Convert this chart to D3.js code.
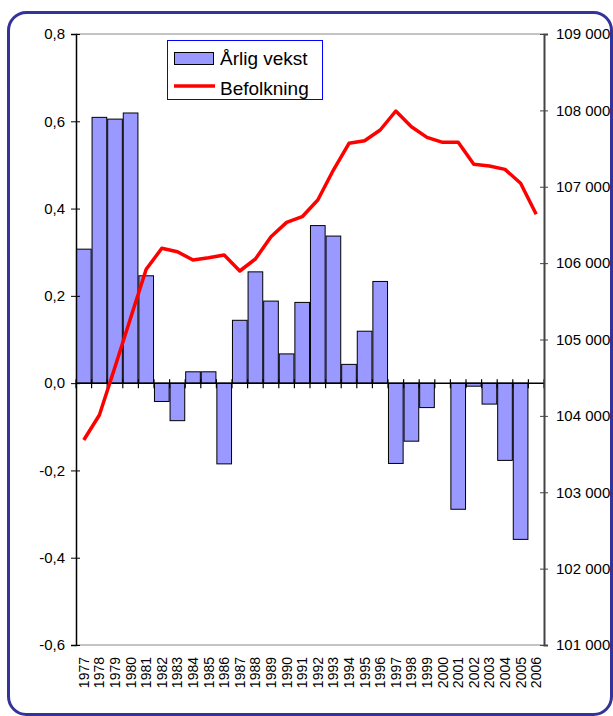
<!DOCTYPE html>
<html>
<head>
<meta charset="utf-8">
<script src="https://cdn.jsdelivr.net/npm/d3@7"></script>
<style>
    body { margin: 0; background: #fff; }
    text { font-family: "Liberation Sans", Arial, sans-serif; fill: #000; }
</style>
</head>
<body>
<div id="chart"></div>
<script>
// years on the category axis
let years = ["1977","1978","1979","1980","1981","1982","1983","1984","1985","1986",
    "1987","1988","1989","1990","1991","1992","1993","1994","1995","1996",
    "1997","1998","1999","2000","2001","2002","2003","2004","2005","2006"];

// Årlig vekst (percent), left axis
let growth = [0.307, 0.609, 0.605, 0.619, 0.246, -0.042, -0.086, 0.026, 0.026, -0.185,
    0.144, 0.255, 0.188, 0.067, 0.185, 0.361, 0.337, 0.043, 0.119, 0.233,
    -0.184, -0.133, -0.056, 0, -0.289, -0.007, -0.048, -0.177, -0.358, null];

// Befolkning, right axis
let population = [103684, 104011, 104640, 105282, 105919, 106194, 106149, 106041, 106071, 106106,
    105897, 106054, 106346, 106534, 106608, 106827, 107219, 107569, 107603, 107743,
    107992, 107786, 107647, 107582, 107582, 107294, 107272, 107228, 107045, 106639];

let leftTicks = [-0.6, -0.4, -0.2, 0, 0.2, 0.4, 0.6, 0.8];
let rightTicks = [101000, 102000, 103000, 104000, 105000, 106000, 107000, 108000, 109000];
let legendLabels = ["Årlig vekst", "Befolkning"];

let width = 613, height = 716;
let margin = { top: 34, right: 69, bottom: 71, left: 76 };

let svg = d3.select("#chart").append("svg").attr("width", width).attr("height", height);

// rounded frame
svg.append("rect").attr("x", 8.5).attr("y", 12.5).attr("width", 603).attr("height", 702)
    .attr("rx", 18).attr("fill", "none").attr("stroke", "#333399").attr("stroke-width", 3);

let x = d3.scaleBand().domain(years).range([margin.left, width - margin.right]).paddingInner(0.06).paddingOuter(0.03);
let yL = d3.scaleLinear().domain([-0.6, 0.8]).range([height - margin.bottom, margin.top]);
let yR = d3.scaleLinear().domain([101000, 109000]).range([height - margin.bottom, margin.top]);

let locale = d3.formatLocale({ decimal: ",", thousands: " ", grouping: [3], currency: ["", ""], minus: "-" });
let fmtL = locale.format(".1f");
let fmtR = locale.format(",d");

// plot area top and bottom edges
svg.append("line").attr("x1", margin.left).attr("x2", width - margin.right)
    .attr("y1", margin.top).attr("y2", margin.top).attr("stroke", "#888").attr("stroke-width", 1);
svg.append("line").attr("x1", margin.left).attr("x2", width - margin.right)
    .attr("y1", yL(-0.6)).attr("y2", yL(-0.6)).attr("stroke", "#888").attr("stroke-width", 1);

// bars
let barData = years.map((y, i) => ({ year: y, value: growth[i] })).filter(d => d.value !== null);
svg.append("g").selectAll("rect").data(barData).join("rect")
    .attr("x", d => x(d.year))
    .attr("y", d => yL(Math.max(0, d.value)))
    .attr("width", x.bandwidth())
    .attr("height", d => Math.abs(yL(d.value) - yL(0)))
    .attr("fill", "#9999ff").attr("stroke", "#000").attr("stroke-width", 1);

// zero line with category ticks
svg.append("line").attr("x1", margin.left).attr("x2", width - margin.right)
    .attr("y1", yL(0)).attr("y2", yL(0)).attr("stroke", "#000").attr("stroke-width", 1.5);
let bounds = d3.range(years.length + 1).map(i => margin.left + i * (width - margin.left - margin.right) / years.length);
svg.append("g").selectAll("line").data(bounds).join("line")
    .attr("x1", d => d).attr("x2", d => d)
    .attr("y1", yL(0) - 4).attr("y2", yL(0) + 5)
    .attr("stroke", "#000").attr("stroke-width", 1.2);

// population line
let line = d3.line().x((d, i) => x(years[i]) + x.bandwidth() / 2).y(d => yR(d));
svg.append("path").datum(population).attr("d", line)
    .attr("fill", "none").attr("stroke", "#ff0000").attr("stroke-width", 3.5).attr("stroke-linejoin", "round");

// left axis
let axL = svg.append("g").attr("transform", "translate(" + margin.left + ",0)")
    .call(d3.axisLeft(yL).tickValues(leftTicks).tickFormat(fmtL).tickSize(5).tickPadding(6));
axL.select(".domain").attr("stroke", "#000").attr("stroke-width", 1.5);
axL.selectAll(".tick line").attr("x1", 4).attr("stroke", "#000");
axL.selectAll(".tick text").attr("font-size", 15).style("font-family", "'Liberation Sans', Arial, sans-serif");

// right axis
let axR = svg.append("g").attr("transform", "translate(" + (width - margin.right) + ",0)")
    .call(d3.axisRight(yR).tickValues(rightTicks).tickFormat(fmtR).tickSize(4).tickPadding(8));
axR.select(".domain").attr("stroke", "#444").attr("stroke-width", 2);
axR.selectAll(".tick line").attr("x1", -4).attr("stroke", "#444");
axR.selectAll(".tick text").attr("font-size", 15).style("font-family", "'Liberation Sans', Arial, sans-serif");

// year labels
svg.append("g").selectAll("text").data(years).join("text")
    .attr("transform", d => "translate(" + (x(d) + x.bandwidth() / 2) + "," + (yL(-0.6) + 12) + ") rotate(-90)")
    .attr("text-anchor", "end").attr("dy", "0.35em").attr("font-size", 14)
    .text(d => d);

// legend
let legend = svg.append("g");
legend.append("rect").attr("x", 167.5).attr("y", 40.5).attr("width", 155).attr("height", 59)
    .attr("fill", "#fff").attr("stroke", "#0000ff").attr("stroke-width", 1);
legend.append("rect").attr("x", 174.5).attr("y", 52.5).attr("width", 39).attr("height", 12)
    .attr("fill", "#9999ff").attr("stroke", "#000").attr("stroke-width", 1);
legend.append("line").attr("x1", 174).attr("x2", 215).attr("y1", 86).attr("y2", 86)
    .attr("stroke", "#ff0000").attr("stroke-width", 3.5);
legend.selectAll("text.lbl").data(legendLabels).join("text").attr("class", "lbl")
    .attr("x", 220).attr("y", (d, i) => 64.5 + i * 30).attr("font-size", 19).text(d => d);
</script>
</body>
</html>
